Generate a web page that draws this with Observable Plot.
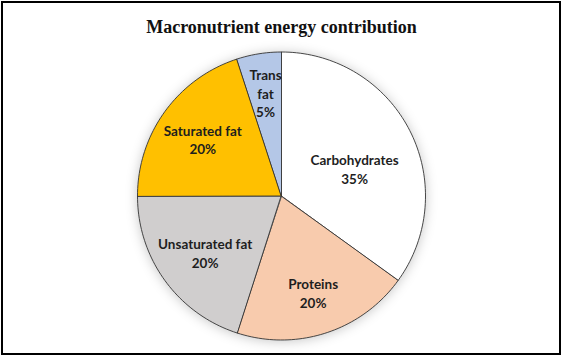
<!DOCTYPE html>
<html>
<head>
<meta charset="utf-8">
<script src="https://cdn.jsdelivr.net/npm/d3@7"></script>
<script src="https://cdn.jsdelivr.net/npm/@observablehq/plot@0.6"></script>
<style>
  html, body { margin: 0; padding: 0; background: #fff; }
  #wrap { position: relative; width: 563px; height: 356px; background: #fff; overflow: hidden; }
  #border { position: absolute; left: 1px; top: 1px; width: 560px; height: 354px; border: 2px solid #000; box-sizing: border-box; pointer-events: none; }
  #title { position: absolute; top: 17px; left: 0; width: 563px; text-align: center;
           font-family: "Liberation Serif", "DejaVu Serif", serif; font-weight: bold; font-size: 18px; line-height: 20px; color: #111; }
  #plot { position: absolute; left: 0; top: 40px; }
</style>
</head>
<body>
<div id="wrap">
  <div id="title">Macronutrient energy contribution</div>
  <div id="plot"></div>
  <div id="border"></div>
</div>
<script>
// Data (clockwise from 12 o'clock)
const categories = ["Carbohydrates", "Proteins", "Unsaturated fat", "Saturated fat", "Trans fat"];
const labelTexts = ["Carbohydrates", "Proteins", "Unsaturated fat", "Saturated fat", "Trans\nfat"];
const values = [35, 20, 20, 20, 5];
const colors = ["#FFFFFF", "#F8CBAD", "#D0CECE", "#FFC000", "#B4C7E7"];

// Layout for labels (radial fraction and angular nudge, degrees)
const labelRadius = [0.54, 0.70, 0.66, 0.68, 0.73];
const labelAngleShift = [6, 0, 0, 0, 0];

const total = d3.sum(values);
const wedgeRows = [];
const labelRows = [];
let acc = 0;
categories.forEach((cat, i) => {
  const a0 = acc / total * 2 * Math.PI;
  acc += values[i];
  const a1 = acc / total * 2 * Math.PI;
  const n = Math.max(2, Math.ceil((a1 - a0) / (2 * Math.PI) * 240));
  for (let k = 0; k <= n; k++) {
    const a = a0 + (a1 - a0) * k / n;
    wedgeRows.push({cat, x1: 0, y1: 0, x2: Math.sin(a), y2: Math.cos(a)});
  }
  const am = (a0 + a1) / 2 + labelAngleShift[i] * Math.PI / 180;
  labelRows.push({
    cat,
    text: labelTexts[i] + "\n" + Math.round(values[i] / total * 100) + "%",
    x: labelRadius[i] * Math.sin(am),
    y: labelRadius[i] * Math.cos(am)
  });
});

const chart = Plot.plot({
  width: 563,
  height: 316,
  marginLeft: 137.5,
  marginRight: 137.5,
  marginTop: 12,
  marginBottom: 16,
  x: {domain: [-1, 1], axis: null},
  y: {domain: [-1, 1], axis: null},
  color: {domain: categories, range: colors},
  style: {background: "transparent", overflow: "visible"},
  marks: [
    Plot.area(wedgeRows, {
      x1: "x1", y1: "y1", x2: "x2", y2: "y2",
      z: "cat", fill: "cat",
      stroke: "#333", strokeWidth: 0.9, strokeLinejoin: "round"
    }),
    Plot.text(labelRows, {
      x: "x", y: "y", text: "text",
      fill: "#1e1e1e",
      fontFamily: "Lato, 'Noto Sans', sans-serif",
      fontWeight: "bold",
      fontSize: 13.5,
      lineHeight: 1.37
    })
  ]
});
const areaG = chart.querySelector('g[aria-label="area"]');
if (areaG) areaG.style.filter = "drop-shadow(0px 1px 6px rgba(0,0,0,0.22))";
document.getElementById("plot").appendChild(chart);
</script>
</body>
</html>
